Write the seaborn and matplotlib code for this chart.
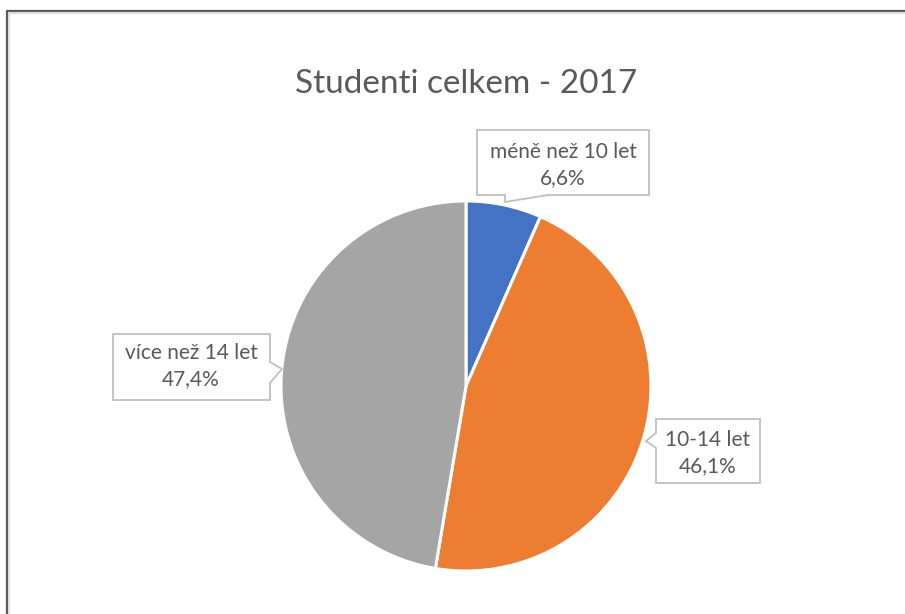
import matplotlib
matplotlib.use("Agg")
import matplotlib.pyplot as plt
from matplotlib.patches import Polygon
from matplotlib.lines import Line2D
import seaborn as sns

# Data
title = "Studenti celkem - 2017"
categories = ["méně než 10 let", "10-14 let", "více než 14 let"]
shares = [6.6, 46.1, 47.4]
colors = ["#4472C4", "#ED7D31", "#A5A5A5"]

sns.set_theme(style="white")
plt.rcParams["font.family"] = ["Lato", "DejaVu Sans"]

W, H = 905, 614
fig = plt.figure(figsize=(W / 100, H / 100), dpi=100)
ax = fig.add_axes([0, 0, 1, 1])


def py(y):
    """Convert a top-down pixel row to the axes' bottom-up y coordinate."""
    return H - y


center = (466, py(386))
radius = 185

ax.pie(shares, colors=colors, startangle=90, counterclock=False,
       center=center, radius=radius,
       wedgeprops=dict(edgecolor="white", linewidth=2.2))
ax.set_xlim(0, W)
ax.set_ylim(0, H)
ax.set_aspect("equal")
ax.axis("off")

text_color = "#595959"
box_edge = "#BFBFBF"

ax.text(466, py(84), title, ha="center", va="center",
        fontsize=24, color=text_color)

# Callout boxes: outline (top-down pixel coords) and text centre per slice
callouts = [
    dict(outline=[(477, 130), (649, 130), (649, 195), (548, 195),
                  (505, 202), (505, 195), (477, 195)],
         text=(563, 165)),
    dict(outline=[(656, 419), (760, 419), (760, 483), (656, 483),
                  (656, 448), (646, 441), (656, 433)],
         text=(708, 453)),
    dict(outline=[(113, 334), (270, 334), (270, 362), (282, 369),
                  (270, 383), (270, 400), (113, 400)],
         text=(191, 366)),
]

for cat, val, co in zip(categories, shares, callouts):
    pts = [(x, py(y)) for x, y in co["outline"]]
    ax.add_patch(Polygon(pts, closed=True, facecolor="white",
                         edgecolor=box_edge, linewidth=1.3, zorder=3))
    label = f"{cat}\n{val:.1f}%".replace(".", ",")
    tx, ty = co["text"]
    ax.text(tx, py(ty), label, ha="center", va="center", fontsize=15,
            color=text_color, linespacing=1.4, zorder=4)

# Chart frame (top and left edges)
fig.add_artist(Line2D([6.5 / W, 6.5 / W], [0, 1 - 10.5 / H],
                      transform=fig.transFigure, color="#5A5A5A", lw=1.6))
fig.add_artist(Line2D([6.5 / W, 1], [1 - 10.5 / H, 1 - 10.5 / H],
                      transform=fig.transFigure, color="#5A5A5A", lw=1.6))
fig.add_artist(Line2D([9 / W, 9 / W], [0, 1 - 13 / H],
                      transform=fig.transFigure, color="#DDDDDD", lw=1.5))
fig.add_artist(Line2D([9 / W, 1], [1 - 13 / H, 1 - 13 / H],
                      transform=fig.transFigure, color="#DDDDDD", lw=1.5))

fig.savefig("out.png", dpi=100, facecolor="white")
